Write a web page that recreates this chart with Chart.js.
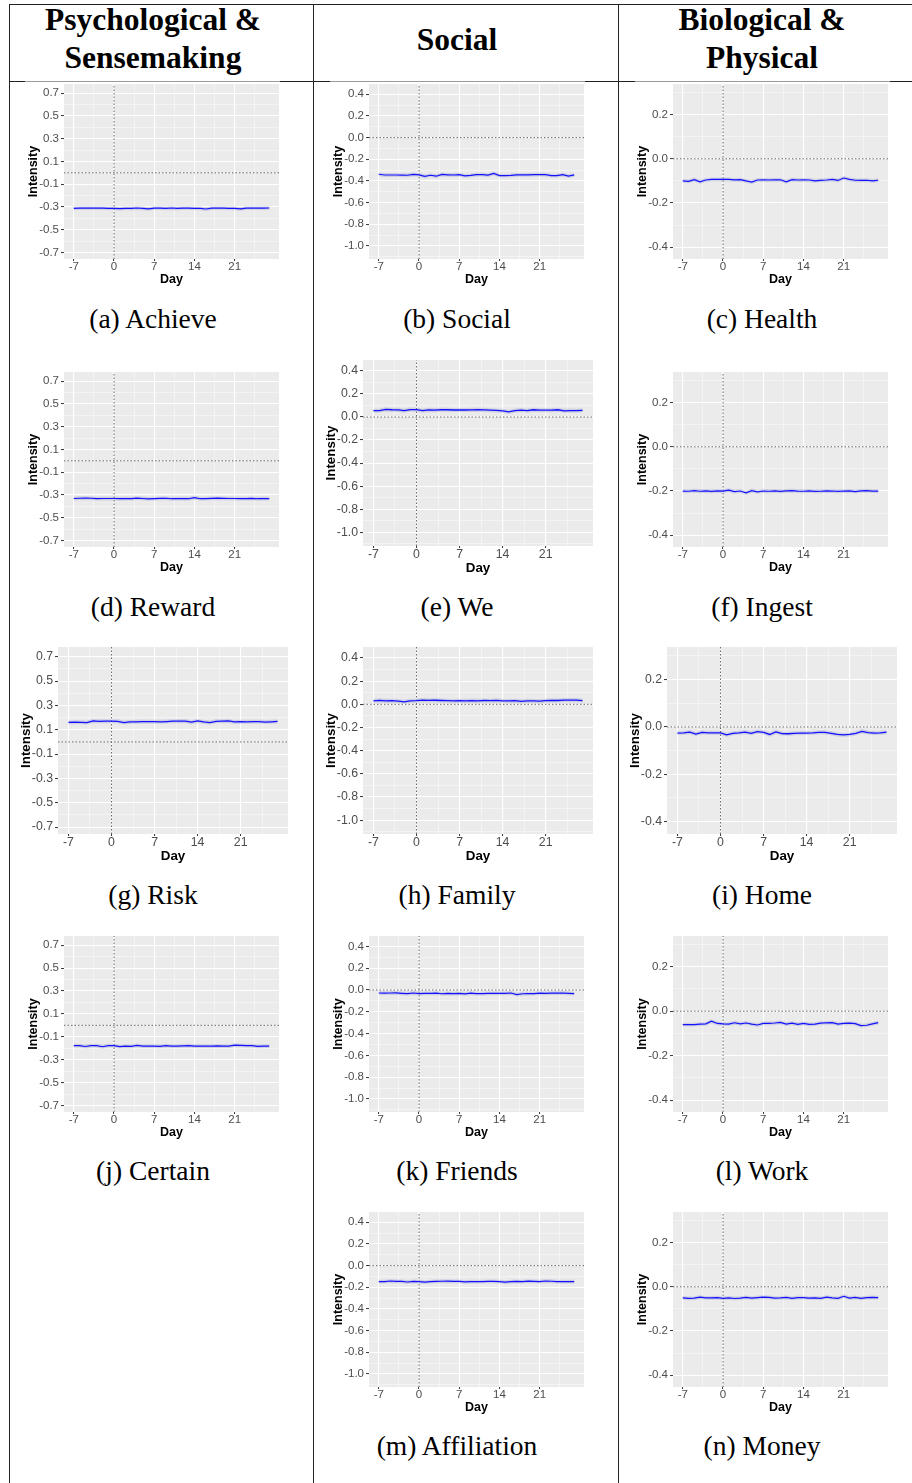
<!DOCTYPE html>
<html><head><meta charset="utf-8">
<script src="https://cdn.jsdelivr.net/npm/chart.js@4.4.1/dist/chart.umd.min.js"></script>
<style>
html,body{margin:0;padding:0;background:#fff;}
body{width:912px;height:1483px;position:relative;overflow:hidden;}
.vl{position:absolute;top:4px;height:1479px;width:1px;background:#222;}
.hl{position:absolute;height:1px;}
.hdr{position:absolute;font-family:"Liberation Serif","Times New Roman",serif;font-weight:bold;font-size:31.5px;line-height:38px;text-align:center;width:300px;color:#000;white-space:nowrap;}
.cap{position:absolute;font-family:"Liberation Serif","Times New Roman",serif;font-size:27.5px;line-height:32px;text-align:center;width:300px;color:#000;white-space:nowrap;}
canvas{position:absolute;}
</style></head><body>
<div class="vl" style="left:9px"></div>
<div class="vl" style="left:313px"></div>
<div class="vl" style="left:618px"></div>
<div class="hl" style="left:9px;width:903px;top:4px;background:#222"></div>
<div class="hl" style="left:9px;width:16px;top:81px;background:#222"></div>
<div class="hl" style="left:25px;width:255px;top:81px;background:#9a9a9a"></div>
<div class="hl" style="left:280px;width:50px;top:81px;background:#222"></div>
<div class="hl" style="left:330px;width:255px;top:81px;background:#9a9a9a"></div>
<div class="hl" style="left:585px;width:50px;top:81px;background:#222"></div>
<div class="hl" style="left:635px;width:255px;top:81px;background:#9a9a9a"></div>
<div class="hl" style="left:890px;width:22px;top:81px;background:#222"></div>
<div class="hdr" style="left:3px;top:1px">Psychological &amp;<br>Sensemaking</div>
<div class="hdr" style="left:307px;top:21px">Social</div>
<div class="hdr" style="left:612px;top:1px">Biological &amp;<br>Physical</div>
<script>
// ---------- data ----------
const days = [-7,-6,-5,-4,-3,-2,-1,0,1,2,3,4,5,6,7,8,9,10,11,12,13,14,15,16,17,18,19,20,21,22,23,24,25,26,27];
const dayTicks = [-7,0,7,14,21];
const psychTicks = [-0.7,-0.5,-0.3,-0.1,0.1,0.3,0.5,0.7];
const socialTicks = [-1.0,-0.8,-0.6,-0.4,-0.2,0.0,0.2,0.4];
const bioTicks = [-0.4,-0.2,0.0,0.2];

const achieve = [-0.312,-0.311,-0.310,-0.310,-0.311,-0.311,-0.312, -0.312,-0.315,-0.312,-0.313,-0.309,-0.313,-0.316, -0.311,-0.310,-0.313,-0.309,-0.313,-0.310,-0.310, -0.312,-0.313,-0.318,-0.311,-0.310,-0.311,-0.313, -0.313,-0.316,-0.310,-0.311,-0.311,-0.310,-0.309];
const social = [-0.338,-0.345,-0.345,-0.345,-0.346,-0.347,-0.339, -0.343,-0.358,-0.347,-0.356,-0.340,-0.343,-0.345, -0.342,-0.352,-0.348,-0.341,-0.341,-0.346,-0.330, -0.350,-0.350,-0.348,-0.343,-0.344,-0.344,-0.341, -0.340,-0.341,-0.350,-0.350,-0.341,-0.355,-0.344];
const health = [-0.100,-0.102,-0.094,-0.104,-0.096,-0.093,-0.093, -0.093,-0.093,-0.095,-0.094,-0.100,-0.105,-0.096, -0.095,-0.096,-0.095,-0.095,-0.104,-0.094,-0.096, -0.095,-0.096,-0.100,-0.098,-0.096,-0.093,-0.098, -0.087,-0.093,-0.097,-0.098,-0.097,-0.100,-0.097];
const reward = [-0.331,-0.329,-0.328,-0.329,-0.332,-0.331,-0.331, -0.331,-0.333,-0.331,-0.332,-0.328,-0.331,-0.334, -0.332,-0.330,-0.329,-0.333,-0.332,-0.331,-0.333, -0.323,-0.333,-0.332,-0.330,-0.328,-0.330,-0.331, -0.331,-0.333,-0.332,-0.330,-0.333,-0.331,-0.332];
const we = [0.055,0.056,0.066,0.063,0.062,0.055,0.064, 0.064,0.055,0.062,0.060,0.063,0.063,0.061, 0.061,0.061,0.062,0.063,0.062,0.059,0.057, 0.054,0.045,0.056,0.060,0.055,0.063,0.060, 0.059,0.060,0.063,0.054,0.056,0.055,0.058];
const ingest = [-0.200,-0.201,-0.198,-0.201,-0.199,-0.202,-0.199, -0.200,-0.196,-0.203,-0.200,-0.208,-0.198,-0.204, -0.200,-0.201,-0.199,-0.202,-0.199,-0.198,-0.200, -0.201,-0.199,-0.202,-0.201,-0.199,-0.200,-0.202, -0.200,-0.199,-0.203,-0.199,-0.198,-0.200,-0.200];
const risk = [0.160,0.162,0.161,0.159,0.172,0.169,0.171, 0.170,0.169,0.159,0.164,0.165,0.167,0.166, 0.166,0.165,0.167,0.170,0.171,0.171,0.162, 0.172,0.164,0.159,0.169,0.170,0.172,0.164, 0.166,0.165,0.166,0.167,0.163,0.165,0.168];
const family = [0.030,0.034,0.030,0.031,0.028,0.022,0.030, 0.032,0.036,0.034,0.035,0.033,0.031,0.029, 0.031,0.030,0.032,0.030,0.033,0.031,0.034, 0.030,0.029,0.031,0.026,0.030,0.029,0.027, 0.032,0.034,0.033,0.036,0.037,0.036,0.032];
const home = [-0.026,-0.025,-0.022,-0.030,-0.023,-0.025,-0.025, -0.025,-0.034,-0.027,-0.025,-0.022,-0.027,-0.020, -0.023,-0.032,-0.021,-0.028,-0.029,-0.027,-0.026, -0.026,-0.025,-0.023,-0.023,-0.027,-0.032,-0.034, -0.032,-0.027,-0.019,-0.024,-0.026,-0.025,-0.022];
const certain = [-0.177,-0.178,-0.185,-0.178,-0.177,-0.187,-0.178, -0.177,-0.186,-0.181,-0.184,-0.176,-0.182,-0.181, -0.181,-0.184,-0.177,-0.181,-0.181,-0.180,-0.178, -0.182,-0.181,-0.181,-0.181,-0.180,-0.181,-0.182, -0.173,-0.176,-0.178,-0.178,-0.184,-0.181,-0.182];
const friends = [-0.028,-0.030,-0.028,-0.027,-0.031,-0.034,-0.028, -0.033,-0.031,-0.032,-0.030,-0.035,-0.032,-0.033, -0.031,-0.036,-0.029,-0.033,-0.033,-0.031,-0.032, -0.032,-0.032,-0.028,-0.043,-0.035,-0.034,-0.033, -0.030,-0.031,-0.030,-0.029,-0.028,-0.031,-0.034];
const work = [-0.060,-0.060,-0.060,-0.058,-0.057,-0.045,-0.055, -0.057,-0.058,-0.052,-0.057,-0.053,-0.058,-0.062, -0.055,-0.055,-0.053,-0.050,-0.058,-0.054,-0.059, -0.055,-0.059,-0.058,-0.054,-0.052,-0.051,-0.058, -0.055,-0.054,-0.056,-0.065,-0.063,-0.057,-0.051];
const affiliation = [-0.148,-0.147,-0.142,-0.146,-0.145,-0.151,-0.146, -0.148,-0.152,-0.148,-0.146,-0.144,-0.143,-0.146, -0.146,-0.150,-0.148,-0.148,-0.147,-0.146,-0.145, -0.148,-0.153,-0.148,-0.146,-0.148,-0.143,-0.146, -0.148,-0.142,-0.144,-0.148,-0.148,-0.148,-0.148];
const money = [-0.050,-0.052,-0.051,-0.047,-0.050,-0.050,-0.049, -0.052,-0.050,-0.053,-0.051,-0.048,-0.051,-0.049, -0.047,-0.048,-0.051,-0.050,-0.048,-0.052,-0.049, -0.049,-0.051,-0.050,-0.052,-0.047,-0.050,-0.052, -0.043,-0.051,-0.048,-0.052,-0.049,-0.048,-0.049];

// ---------- axis ranges ----------
const X_MIN = -8.7, X_MAX = 28.7;
const GROUPS = {
  psych:  {min:-0.757, max:0.78,  ticks:psychTicks},
  social: {min:-1.12,  max:0.495, ticks:socialTicks},
  bio:    {min:-0.453, max:0.338, ticks:bioTicks}
};

// ---------- layout ----------
const panels = [
  {cap:'(a) Achieve',    values:achieve,    group:'psych',  L:64,  T:84,   R:279, B:259,  s:1,    col:0, capY:319},
  {cap:'(b) Social',     values:social,     group:'social', L:369, T:84,   R:584, B:259,  s:1,    col:1, capY:319},
  {cap:'(c) Health',     values:health,     group:'bio',    L:673, T:84,   R:888, B:259,  s:1,    col:2, capY:319},
  {cap:'(d) Reward',     values:reward,     group:'psych',  L:64,  T:372,  R:279, B:547,  s:1,    col:0, capY:607},
  {cap:'(e) We',         values:we,         group:'social', L:363, T:360,  R:593, B:546,  s:1.07, col:1, capY:607},
  {cap:'(f) Ingest',     values:ingest,     group:'bio',    L:673, T:372,  R:888, B:547,  s:1,    col:2, capY:607},
  {cap:'(g) Risk',       values:risk,       group:'psych',  L:58,  T:647,  R:288, B:834,  s:1.07, col:0, capY:895},
  {cap:'(h) Family',     values:family,     group:'social', L:363, T:647,  R:593, B:834,  s:1.07, col:1, capY:895},
  {cap:'(i) Home',       values:home,       group:'bio',    L:667, T:647,  R:897, B:834,  s:1.07, col:2, capY:895},
  {cap:'(j) Certain',    values:certain,    group:'psych',  L:64,  T:936,  R:279, B:1112, s:1,    col:0, capY:1171},
  {cap:'(k) Friends',    values:friends,    group:'social', L:369, T:936,  R:584, B:1112, s:1,    col:1, capY:1171},
  {cap:'(l) Work',       values:work,       group:'bio',    L:673, T:936,  R:888, B:1112, s:1,    col:2, capY:1171},
  {cap:'(m) Affiliation',values:affiliation,group:'social', L:369, T:1212, R:584, B:1387, s:1,    col:1, capY:1446},
  {cap:'(n) Money',      values:money,      group:'bio',    L:673, T:1212, R:888, B:1387, s:1,    col:2, capY:1446}
];
const colCenters = [153, 457, 762];
const FONT = '"Liberation Sans", Arial, Helvetica, sans-serif';

function withMinors(majors, min, max){
  const step = majors[1] - majors[0];
  const out = majors.map(v => ({value:v, minor:false}));
  for (let i = -1; i < majors.length; i++){
    const v = majors[0] + (i + 0.5) * step;
    if (v > min && v < max) out.push({value:v, minor:true});
  }
  return out.sort((a,b) => a.value - b.value);
}

const bgPlugin = {
  id:'panelBg',
  beforeDraw(chart){
    const {ctx, chartArea:a} = chart;
    ctx.save();
    ctx.fillStyle = '#EBEBEB';
    ctx.fillRect(a.left, a.top, a.right - a.left, a.bottom - a.top);
    ctx.restore();
  }
};

function gridOpts(len){
  return {
    color: c => (c.tick && c.tick.minor) ? 'rgba(255,255,255,0.7)' : '#ffffff',
    lineWidth: c => (c.tick && c.tick.minor) ? 0.6 : 1.1,
    drawTicks: true,
    tickLength: len,
    tickWidth: 1,
    tickColor: c => (c.tick && c.tick.minor) ? 'rgba(0,0,0,0)' : '#333333'
  };
}

function makePanel(p){
  const g = GROUPS[p.group];
  const s = p.s;
  const W = Math.round(44 * s), H = Math.round(30 * s), PT = 12, PR = 4;
  const cw = W + (p.R - p.L) + PR, ch = PT + (p.B - p.T) + H;
  const cv = document.createElement('canvas');
  cv.width = cw; cv.height = ch;
  cv.style.left = (p.L - W) + 'px';
  cv.style.top = (p.T - PT) + 'px';
  cv.style.width = cw + 'px';
  cv.style.height = ch + 'px';
  document.body.appendChild(cv);

  const pts = days.map((d, i) => ({x:d, y:p.values[i]}));
  new Chart(cv, {
    type:'line',
    data:{datasets:[
      {data:pts, borderColor:'#1212ff', borderWidth:1.2 * s, pointRadius:0, tension:0, order:0},
      {data:pts, borderColor:'rgba(110,110,190,0.22)', borderWidth:3.8 * s, pointRadius:0, tension:0, order:1},
      {data:[{x:X_MIN, y:0}, {x:X_MAX, y:0}], borderColor:'#5a5a5a', borderWidth:0.9, borderDash:[1.5, 2], pointRadius:0, order:2},
      {data:[{x:0, y:g.min}, {x:0, y:g.max}], borderColor:'#5a5a5a', borderWidth:0.9, borderDash:[1.5, 2], pointRadius:0, order:2}
    ]},
    options:{
      responsive:false, animation:false, devicePixelRatio:1, events:[],
      layout:{padding:{left:0, top:PT, right:PR, bottom:0}},
      plugins:{legend:{display:false}, tooltip:{enabled:false}},
      scales:{
        x:{
          type:'linear', min:X_MIN, max:X_MAX,
          border:{display:false},
          afterBuildTicks: sc => { sc.ticks = withMinors(dayTicks, X_MIN, X_MAX); },
          afterFit: sc => { sc.height = H; },
          grid: gridOpts(2),
          ticks:{autoSkip:false, maxRotation:0, padding:-1, color:'#4d4d4d',
                 font:{family:FONT, size:11.5 * s},
                 callback:(v, i, t) => t[i].minor ? '' : String(v)},
          title:{display:true, text:'Day', color:'#000', font:{family:FONT, size:12.5 * s, weight:'bold'},
                 padding:{top:0, bottom:2 * s}}
        },
        y:{
          type:'linear', min:g.min, max:g.max,
          border:{display:false},
          afterBuildTicks: sc => { sc.ticks = withMinors(g.ticks, g.min, g.max); },
          afterFit: sc => { sc.width = W; },
          grid: gridOpts(3),
          ticks:{autoSkip:false, padding:2, color:'#4d4d4d',
                 font:{family:FONT, size:11.5 * s},
                 callback:(v, i, t) => t[i].minor ? '' : Number(v).toFixed(1)},
          title:{display:true, text:'Intensity', color:'#000', font:{family:FONT, size:12.5 * s, weight:'bold'},
                 padding:{top:6.5 * s, bottom:0}}
        }
      }
    },
    plugins:[bgPlugin]
  });

  const cap = document.createElement('div');
  cap.className = 'cap';
  cap.textContent = p.cap;
  cap.style.left = (colCenters[p.col] - 150) + 'px';
  cap.style.top = (p.capY - 16) + 'px';
  document.body.appendChild(cap);
}

panels.forEach(makePanel);
</script>
</body></html>
